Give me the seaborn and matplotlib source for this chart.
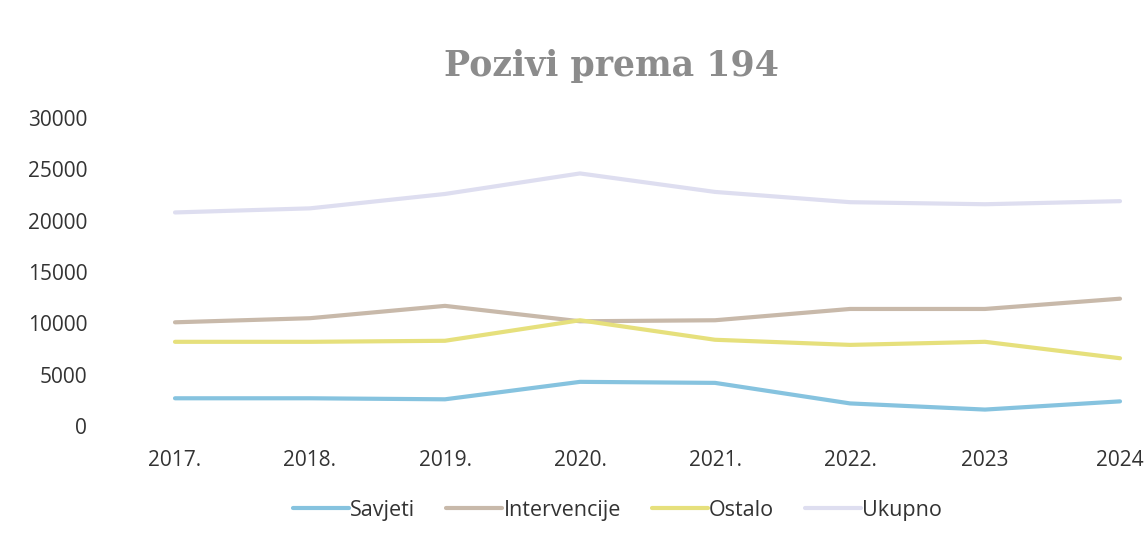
import matplotlib
matplotlib.use("Agg")
import matplotlib.pyplot as plt
import seaborn as sns
import pandas as pd
from matplotlib.lines import Line2D

years = ["2017.", "2018.", "2019.", "2020.", "2021.", "2022.", "2023", "2024"]
savjeti = [2700, 2700, 2600, 4300, 4200, 2200, 1600, 2400]
intervencije = [10100, 10500, 11700, 10200, 10300, 11400, 11400, 12400]
ostalo = [8200, 8200, 8300, 10300, 8400, 7900, 8200, 6600]
ukupno = [20800, 21200, 22600, 24600, 22800, 21800, 21600, 21900]
series_names = ["Savjeti", "Intervencije", "Ostalo", "Ukupno"]
colors = ["#86c3df", "#c8b9aa", "#e6e07c", "#dedef0"]

sns.set_theme(style="white")
plt.rcParams["font.family"] = ["Open Sans", "DejaVu Sans"]

rows = []
for name, vals in zip(series_names, [savjeti, intervencije, ostalo, ukupno]):
    for i, (y, v) in enumerate(zip(years, vals)):
        rows.append({"pos": i, "year": y, "series": name, "value": v})
df = pd.DataFrame(rows)

fig = plt.figure(figsize=(11.48, 5.38), dpi=100)
left_px = 107.5
ax = fig.add_axes([left_px / 1148, (538 - 426) / 538, (1148 - left_px) / 1148, (426 - 118) / 538])

sns.lineplot(data=df, x="pos", y="value", hue="series", hue_order=series_names,
             palette=colors, linewidth=3.0, ax=ax, legend=False)

ax.set_xlim(-0.5, -0.5 + (1148 - left_px) / 135)
ax.set_ylim(0, 30000)
ax.set_yticks(range(0, 30001, 5000))
ax.set_yticklabels([str(v) for v in range(0, 30001, 5000)])
ax.set_xticks(range(len(years)))
ax.set_xticklabels(years)
ax.tick_params(axis="both", labelsize=15, colors="#333333", length=0)
ax.tick_params(axis="x", pad=17)
ax.tick_params(axis="y", pad=14.5)
for s in ax.spines.values():
    s.set_visible(False)
ax.set_xlabel("")
ax.set_ylabel("")
ax.grid(False)

fig.text(0.533, 0.878, "Pozivi prema 194", ha="center", va="center",
         fontsize=25, fontweight="bold", family="DejaVu Serif", color="#8c8c8c")

handles = [Line2D([0], [0], color=c, lw=3) for c in colors]
fig.legend(handles, series_names, loc="center", bbox_to_anchor=(0.538, 0.052),
           ncol=4, frameon=False, fontsize=15.5, handlelength=2.6,
           handletextpad=0.05, columnspacing=1.45, labelcolor="#333333")

fig.savefig("out.png", dpi=100)
